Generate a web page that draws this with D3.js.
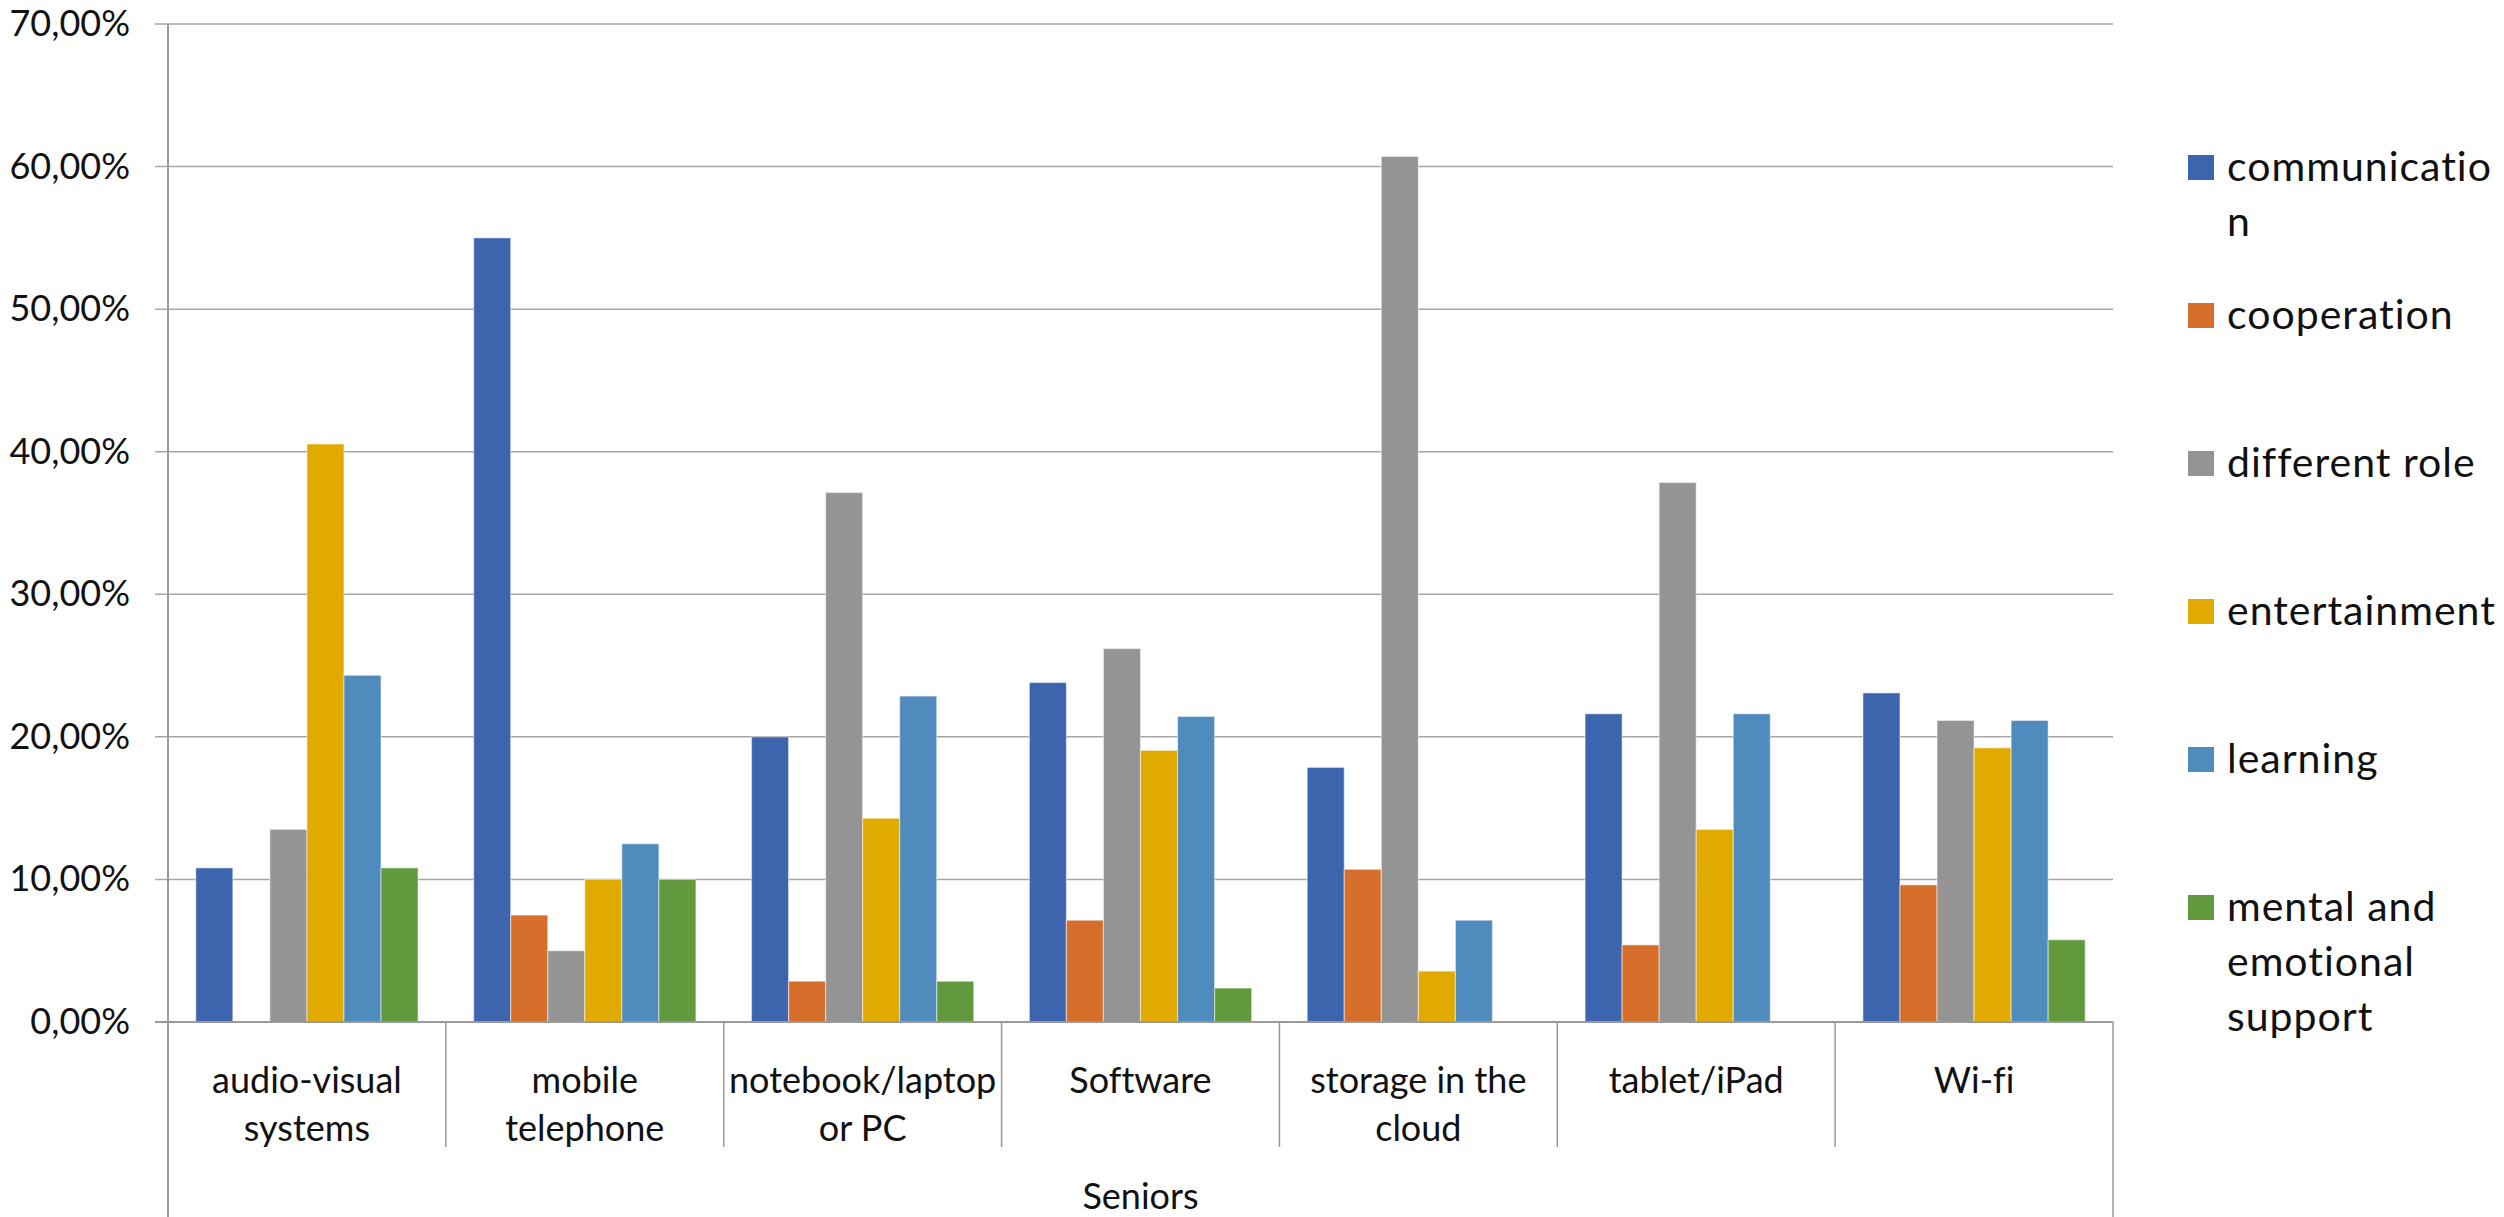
<!DOCTYPE html>
<html>
<head>
<meta charset="utf-8">
<script src="https://cdn.jsdelivr.net/npm/d3@7"></script>
<style>
  html, body { margin: 0; padding: 0; background: #fff; }
  svg { display: block; }
  text { font-family: Lato, "Open Sans", sans-serif; fill: #111; font-variant-ligatures: none; }
</style>
</head>
<body>
<svg id="chart" width="2504" height="1217"></svg>
<script>
// Device categories (x axis), grouped under "Seniors"
const categories = ["audio-visual systems", "mobile telephone", "notebook/laptop or PC", "Software", "storage in the cloud", "tablet/iPad", "Wi-fi"];
const categoryLines = [["audio-visual", "systems"], ["mobile", "telephone"], ["notebook/laptop", "or PC"], ["Software"], ["storage in the", "cloud"], ["tablet/iPad"], ["Wi-fi"]];
const groupLabel = "Seniors";

// Purposes (series)
const series = ["communication", "cooperation", "different role", "entertainment", "learning", "mental and emotional support"];
const legendLines = [["communicatio", "n"], ["cooperation"], ["different role"], ["entertainment"], ["learning"], ["mental and", "emotional", "support"]];
const colors = ["#3D65AD", "#D56F2B", "#949494", "#E1AA00", "#508BBE", "#62993E"];

// Share per category, one array per series (fractions)
const communication = [0.1081, 0.55, 0.20, 0.2381, 0.1786, 0.2162, 0.2308];
const cooperation   = [0.0,    0.075, 0.0286, 0.0714, 0.1071, 0.0541, 0.0962];
const differentRole = [0.1351, 0.05, 0.3714, 0.2619, 0.6071, 0.3784, 0.2115];
const entertainment = [0.4054, 0.10, 0.1429, 0.1905, 0.0357, 0.1351, 0.1923];
const learning      = [0.2432, 0.125, 0.2286, 0.2143, 0.0714, 0.2162, 0.2115];
const mentalSupport = [0.1081, 0.10, 0.0286, 0.0238, 0.0, 0.0, 0.0577];

const yTicks = [0, 0.1, 0.2, 0.3, 0.4, 0.5, 0.6, 0.7];

const values = [communication, cooperation, differentRole, entertainment, learning, mentalSupport];

const svg = d3.select("#chart");
const plot = { left: 168, right: 2113, top: 24, bottom: 1022 };

const x0 = d3.scaleBand().domain(categories).range([plot.left, plot.right]).paddingInner(0).paddingOuter(0);
const x1 = d3.scaleBand().domain(series).range([0, x0.bandwidth()]).paddingInner(0).paddingOuter(0.75);
const y = d3.scaleLinear().domain([0, 0.7]).range([plot.bottom, plot.top]);

const fmt = v => d3.format(".2f")(v * 100).replace(".", ",") + "%";

// Horizontal gridlines
svg.append("g")
  .selectAll("line")
  .data(yTicks)
  .join("line")
  .attr("x1", plot.left - 13)
  .attr("x2", plot.right)
  .attr("y1", d => y(d))
  .attr("y2", d => y(d))
  .attr("stroke", "#A6A6A6")
  .attr("stroke-width", 1.5);

// Y axis labels
const yAxis = d3.axisLeft(y).tickValues(yTicks).tickFormat(fmt).tickSize(0).tickPadding(38);
const yG = svg.append("g").attr("transform", `translate(${plot.left},0)`).call(yAxis);
yG.select(".domain").remove();
yG.selectAll("text").attr("font-size", 36).attr("font-family", "Lato, sans-serif").attr("fill", "#111");

// Bars
const groups = svg.append("g")
  .selectAll("g")
  .data(categories)
  .join("g")
  .attr("transform", d => `translate(${x0(d)},0)`);

groups.selectAll("rect")
  .data((c, ci) => series.map((s, si) => ({ s, si, v: values[si][ci] })))
  .join("rect")
  .attr("x", d => x1(d.s))
  .attr("width", x1.bandwidth())
  .attr("y", d => y(d.v))
  .attr("height", d => y(0) - y(d.v))
  .attr("fill", d => colors[d.si])
  .attr("stroke", "#fff")
  .attr("stroke-opacity", 0.45)
  .attr("stroke-width", 1.2);

// Axis lines: left value axis, baseline, category separators
const axisColor = "#9A9A9A";
svg.append("line")
  .attr("x1", plot.left).attr("x2", plot.left)
  .attr("y1", plot.top).attr("y2", 1217)
  .attr("stroke", axisColor).attr("stroke-width", 2);
svg.append("line")
  .attr("x1", plot.left - 13).attr("x2", plot.right)
  .attr("y1", plot.bottom).attr("y2", plot.bottom)
  .attr("stroke", axisColor).attr("stroke-width", 2);

const bounds = categories.map(c => x0(c)).concat([plot.right]);
svg.append("g")
  .selectAll("line")
  .data(bounds)
  .join("line")
  .attr("x1", d => d).attr("x2", d => d)
  .attr("y1", plot.bottom)
  .attr("y2", (d, i) => (i === 0 || i === bounds.length - 1) ? 1217 : 1147)
  .attr("stroke", axisColor)
  .attr("stroke-width", 1.5);

// Category labels
const catG = svg.append("g");
categories.forEach((c, i) => {
  const t = catG.append("text")
    .attr("x", x0(c) + x0.bandwidth() / 2)
    .attr("y", 1093)
    .attr("text-anchor", "middle")
    .attr("font-size", 36);
  categoryLines[i].forEach((line, li) => {
    t.append("tspan")
      .attr("x", x0(c) + x0.bandwidth() / 2)
      .attr("dy", li === 0 ? 0 : 48)
      .text(line);
  });
});

// Group label
svg.append("text")
  .attr("x", (plot.left + plot.right) / 2)
  .attr("y", 1209)
  .attr("text-anchor", "middle")
  .attr("font-size", 36)
  .text(groupLabel);

// Legend
const legend = svg.append("g");
const legendTop = 167, legendStep = 148;
series.forEach((s, i) => {
  const cy = legendTop + i * legendStep;
  legend.append("rect")
    .attr("x", 2188).attr("y", cy - 12)
    .attr("width", 26).attr("height", 25)
    .attr("fill", colors[i]);
  const t = legend.append("text")
    .attr("x", 2227)
    .attr("y", cy + 14)
    .attr("font-size", 41)
    .attr("letter-spacing", 1);
  legendLines[i].forEach((line, li) => {
    t.append("tspan")
      .attr("x", 2227)
      .attr("dy", li === 0 ? 0 : 55)
      .text(line);
  });
});
</script>
</body>
</html>
